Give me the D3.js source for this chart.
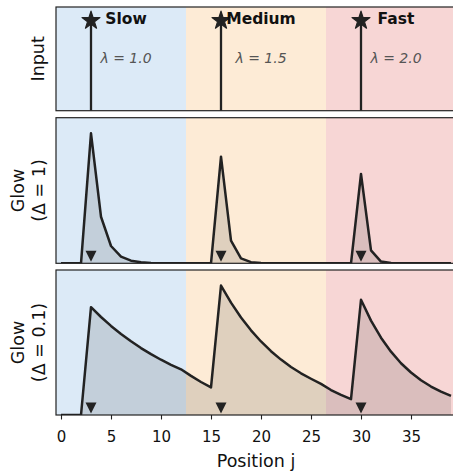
<!DOCTYPE html>
<html>
<head>
<meta charset="utf-8">
<script src="https://cdn.jsdelivr.net/npm/d3@7"></script>
<style>
  body { margin: 0; background: #fff; }
  svg { display: block; font-family: "DejaVu Sans", sans-serif; }
</style>
</head>
<body>
<div id="chart"></div>
<script>
// regions along the sequence
const regionNames = ["Slow", "Medium", "Fast"];
const regionLambdas = ["1.0", "1.5", "2.0"];
const regionStarts = [0, 13, 27];
const regionEnds = [13, 27, 40];
const regionColors = ["#dceaf7", "#fdebd6", "#f7d6d5"];

// input spikes
const spikePositions = [3, 16, 30];
const spikeValues = [1, 1, 1];

// positions j
const positions = d3.range(40);

// glow, delta = 1 (peak = 1)
const glowDelta1 = [0, 0, 0, 1.0, 0.358, 0.133, 0.051, 0.02, 0.008, 0.003, 0.001, 0, 0, 0, 0, 0,
  0.82, 0.174, 0.038, 0.009, 0.002, 0, 0, 0, 0, 0, 0, 0, 0, 0,
  0.687, 0.1, 0.013, 0.002, 0, 0, 0, 0, 0, 0];

// glow, delta = 0.1
const glowDelta01 = [0, 0, 0, 0.833, 0.757, 0.688, 0.626, 0.569, 0.517, 0.470, 0.427, 0.388, 0.353, 0.302, 0.255, 0.213,
  1.0, 0.868, 0.753, 0.654, 0.568, 0.493, 0.428, 0.371, 0.322, 0.280, 0.240, 0.193, 0.155, 0.122,
  0.890, 0.729, 0.597, 0.489, 0.400, 0.328, 0.268, 0.220, 0.180, 0.147];

const xTicks = [0, 5, 10, 15, 20, 25, 30, 35];

const width = 453, height = 472;
const left = 56;
const ink = "#222";

const svg = d3.select("#chart").append("svg")
  .attr("width", width)
  .attr("height", height);

const x = d3.scaleLinear().domain([-0.5, 39.5]).range([left, left + 400]);

// panel boxes
const panels = [
  { top: 7, bottom: 110.7, ymax: 1.15, label: ["Input"] },
  { top: 117.7, bottom: 263.3, ymax: 1.12, label: ["Glow", "(Δ = 1)"], values: glowDelta1 },
  { top: 270, bottom: 415, ymax: 1.12, label: ["Glow", "(Δ = 0.1)"], values: glowDelta01 }
];

const triPath = "M-5.5,-5.5L5.5,-5.5L0,5.5Z";
const starPath = d3.symbol(d3.symbolStar, 100)();

panels.forEach((p, pi) => {
  const y = d3.scaleLinear().domain([0, p.ymax]).range([p.bottom, p.top]);
  const g = svg.append("g");
  const clipId = "clip" + pi;
  g.append("clipPath").attr("id", clipId)
    .append("rect")
    .attr("x", x(-0.5)).attr("y", p.top)
    .attr("width", x(39.5) - x(-0.5)).attr("height", p.bottom - p.top);

  const inner = g.append("g").attr("clip-path", `url(#${clipId})`);

  inner.selectAll(".region")
    .data(regionStarts)
    .join("rect")
    .attr("x", d => x(d - 0.5))
    .attr("y", p.top)
    .attr("width", (d, i) => x(regionEnds[i] - 0.5) - x(d - 0.5))
    .attr("height", p.bottom - p.top)
    .attr("fill", (d, i) => regionColors[i]);

  if (pi === 0) {
    inner.selectAll(".spike")
      .data(spikePositions)
      .join("line")
      .attr("x1", d => x(d)).attr("x2", d => x(d))
      .attr("y1", y(0)).attr("y2", (d, i) => y(spikeValues[i]))
      .attr("stroke", ink)
      .attr("stroke-width", 2.3);
    inner.selectAll(".star")
      .data(spikePositions)
      .join("path")
      .attr("d", starPath)
      .attr("transform", (d, i) => `translate(${x(d)},${y(spikeValues[i])})`)
      .attr("fill", ink)
      .attr("stroke", ink)
      .attr("stroke-width", 1.2)
      .attr("stroke-linejoin", "round");
    g.selectAll(".name")
      .data(regionNames)
      .join("text")
      .attr("x", (d, i) => x((regionStarts[i] + regionEnds[i]) / 2))
      .attr("y", p.top + 17)
      .attr("text-anchor", "middle")
      .attr("font-size", 15.5)
      .attr("font-weight", "bold")
      .attr("fill", "#111")
      .text(d => d);
    g.selectAll(".lam")
      .data(regionLambdas)
      .join("text")
      .attr("x", (d, i) => x((regionStarts[i] + regionEnds[i]) / 2))
      .attr("y", p.top + 55.5)
      .attr("text-anchor", "middle")
      .attr("font-size", 14)
      .attr("font-style", "italic")
      .attr("fill", "#555")
      .text(d => "λ = " + d);
  } else {
    const area = d3.area()
      .x((d, i) => x(positions[i]))
      .y0(y(0))
      .y1(d => y(d));
    const line = d3.line()
      .x((d, i) => x(positions[i]))
      .y(d => y(d));
    inner.append("path")
      .datum(p.values)
      .attr("d", area)
      .attr("fill", "#333")
      .attr("fill-opacity", 0.15);
    inner.append("path")
      .datum(p.values)
      .attr("d", line)
      .attr("fill", "none")
      .attr("stroke", ink)
      .attr("stroke-width", 2.5)
      .attr("stroke-linejoin", "round");
    inner.selectAll(".tri")
      .data(spikePositions)
      .join("path")
      .attr("d", triPath)
      .attr("transform", d => `translate(${x(d)},${y(0.055)})`)
      .attr("fill", ink);
  }

  // frame
  g.append("rect")
    .attr("x", x(-0.5)).attr("y", p.top)
    .attr("width", x(39.5) - x(-0.5)).attr("height", p.bottom - p.top)
    .attr("fill", "none")
    .attr("stroke", ink)
    .attr("stroke-width", 1.2);

  // y label
  const cy = (p.top + p.bottom) / 2;
  const lab = g.append("text")
    .attr("transform", `translate(0,${cy}) rotate(-90)`)
    .attr("text-anchor", "middle")
    .attr("font-size", 17.5)
    .attr("fill", "#111");
  if (p.label.length === 1) {
    lab.append("tspan").attr("x", 0).attr("y", 44).text(p.label[0]);
  } else {
    lab.append("tspan").attr("x", 0).attr("y", 24).text(p.label[0]);
    lab.append("tspan").attr("x", 0).attr("y", 45).text(p.label[1]);
  }

  if (pi === panels.length - 1) {
    const axis = d3.axisBottom(x).tickValues(xTicks).tickSize(4.5).tickPadding(12);
    const ax = svg.append("g")
      .attr("transform", `translate(0,${p.bottom})`)
      .call(axis);
    ax.select(".domain").remove();
    ax.selectAll(".tick line").attr("stroke", ink).attr("stroke-width", 1.1);
    ax.selectAll(".tick text")
      .attr("font-size", 15)
      .attr("font-family", "DejaVu Sans")
      .attr("fill", "#111");
    svg.append("text")
      .attr("x", x(19.5))
      .attr("y", p.bottom + 52)
      .attr("text-anchor", "middle")
      .attr("font-size", 17.5)
      .attr("fill", "#111")
      .text("Position j");
  }
});
</script>
</body>
</html>
